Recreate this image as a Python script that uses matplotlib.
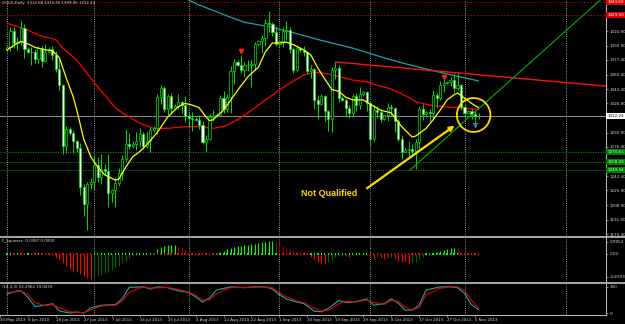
import matplotlib
matplotlib.use('Agg')
import matplotlib.pyplot as plt
from matplotlib.patches import Ellipse
from matplotlib.lines import Line2D

# GOLD daily, 2 Jun 2013 (Sunday bar) .. 6 Nov 2013
opens = [1390, 1392, 1411, 1397, 1398, 1414, 1390, 1387, 1386, 1378, 1391, 1376, 1387, 1390, 1383, 1367,
         1348, 1277, 1297, 1293, 1283, 1275, 1230, 1210, 1234, 1236, 1255, 1242, 1251, 1249, 1223, 1226,
         1235, 1246, 1262, 1280, 1277, 1280, 1283, 1291, 1277, 1283, 1296, 1298, 1334, 1345, 1320, 1335,
         1322, 1324, 1328, 1325, 1312, 1310, 1309, 1308, 1302, 1282, 1286, 1311, 1312, 1314, 1333, 1321,
         1334, 1365, 1375, 1371, 1366, 1372, 1371, 1373, 1396, 1399, 1403, 1420, 1419, 1410, 1396, 1399,
         1411, 1412, 1390, 1366, 1391, 1389, 1386, 1364, 1367, 1331, 1326, 1336, 1318, 1309, 1366, 1368,
         1333, 1331, 1322, 1316, 1336, 1325, 1338, 1340, 1327, 1286, 1319, 1317, 1309, 1313, 1323, 1322,
         1306, 1286, 1271, 1273, 1274, 1272, 1282, 1321, 1315, 1317, 1316, 1337, 1333, 1348, 1351, 1352,
         1354, 1345, 1348, 1323, 1316, 1318, 1315, 1312.68]
highs = [1394, 1416, 1415, 1404, 1423, 1419, 1392, 1392, 1390, 1394, 1394, 1396, 1392, 1394, 1388, 1378,
         1350, 1301, 1299, 1296, 1285, 1281, 1233, 1236, 1240, 1267, 1265, 1268, 1257, 1268, 1228, 1240,
         1252, 1267, 1297, 1293, 1283, 1294, 1298, 1294, 1294, 1300, 1301, 1338, 1348, 1347, 1338, 1339,
         1326, 1338, 1330, 1335, 1316, 1317, 1311, 1314, 1306, 1290, 1315, 1319, 1316, 1337, 1341, 1338,
         1370, 1379, 1377, 1383, 1375, 1377, 1377, 1398, 1400, 1406, 1425, 1434, 1421, 1417, 1401, 1416,
         1423, 1415, 1392, 1395, 1392, 1393, 1388, 1372, 1368, 1337, 1338, 1337, 1319, 1369, 1375, 1371,
         1335, 1333, 1325, 1338, 1339, 1346, 1341, 1341, 1330, 1325, 1324, 1320, 1314, 1327, 1326, 1323,
         1309, 1290, 1275, 1283, 1280, 1286, 1323, 1326, 1318, 1320, 1343, 1339, 1353, 1356, 1353, 1358,
         1362, 1363, 1350, 1326, 1319, 1321, 1318, 1315.55]
lows = [1388, 1388, 1391, 1389, 1395, 1380, 1385, 1371, 1374, 1374, 1369, 1375, 1385, 1377, 1363, 1343,
        1268, 1269, 1290, 1269, 1270, 1221, 1196, 1180, 1228, 1226, 1236, 1233, 1245, 1207, 1212, 1207,
        1231, 1238, 1260, 1274, 1275, 1273, 1278, 1274, 1275, 1270, 1294, 1292, 1326, 1317, 1313, 1315,
        1320, 1320, 1316, 1305, 1299, 1295, 1306, 1297, 1280, 1271, 1284, 1306, 1311, 1313, 1316, 1317,
        1316, 1350, 1370, 1362, 1357, 1365, 1346, 1366, 1394, 1385, 1394, 1410, 1405, 1393, 1394, 1392,
        1400, 1385, 1362, 1364, 1387, 1382, 1361, 1356, 1321, 1309, 1325, 1306, 1295, 1294, 1355, 1328,
        1330, 1311, 1310, 1313, 1318, 1321, 1336, 1318, 1277, 1283, 1310, 1305, 1308, 1307, 1312, 1294,
        1283, 1262, 1270, 1265, 1268, 1251, 1274, 1308, 1313, 1306, 1309, 1322, 1331, 1340, 1350, 1347,
        1340, 1342, 1319, 1310, 1315, 1309, 1300, 1309.06]
closes = [1392, 1411, 1397, 1398, 1414, 1390, 1387, 1386, 1378, 1391, 1376, 1387, 1390, 1383, 1367, 1348,
          1277, 1297, 1293, 1283, 1275, 1230, 1210, 1234, 1236, 1255, 1242, 1251, 1249, 1223, 1226, 1235,
          1246, 1262, 1280, 1277, 1280, 1283, 1291, 1277, 1283, 1296, 1298, 1334, 1345, 1320, 1335, 1322,
          1324, 1328, 1325, 1312, 1310, 1309, 1308, 1302, 1282, 1286, 1311, 1312, 1314, 1333, 1321, 1334,
          1365, 1375, 1371, 1366, 1372, 1371, 1373, 1396, 1399, 1403, 1420, 1419, 1410, 1396, 1399, 1411,
          1412, 1390, 1366, 1391, 1389, 1386, 1364, 1367, 1331, 1326, 1336, 1318, 1309, 1366, 1368, 1333,
          1331, 1322, 1316, 1336, 1325, 1338, 1340, 1327, 1286, 1319, 1317, 1309, 1313, 1323, 1322, 1306,
          1286, 1271, 1273, 1274, 1272, 1282, 1321, 1315, 1317, 1316, 1337, 1333, 1348, 1351, 1352, 1354,
          1345, 1348, 1323, 1316, 1318, 1315, 1312.68, 1312.24]

# moving averages (sampled bars, price)
fast_bars = [0, 3, 4, 6, 8, 11, 13, 15, 16, 17, 19, 20, 22, 24, 26, 28, 31, 32, 34, 36, 38, 40, 43, 46,
             49, 51, 53, 55, 57, 58, 59, 62, 66, 69, 72, 74, 76, 78, 80, 82, 85, 87, 89, 91, 93, 95, 97,
             99, 102, 104, 107, 110, 113, 116, 117, 120, 122, 124, 126, 128, 129, 131, 133, 135]
fast_ma = [1389, 1397, 1399, 1396, 1392, 1389, 1388, 1380, 1368, 1356, 1334, 1319, 1285, 1265, 1253, 1244,
           1238, 1239, 1253, 1265, 1271, 1279, 1293, 1311, 1323, 1327, 1325, 1322, 1311, 1307, 1308, 1319,
           1342, 1358, 1369, 1387, 1397, 1397, 1398, 1395, 1389, 1383, 1368, 1355, 1343, 1341, 1334, 1331,
           1331, 1326, 1319, 1316, 1300, 1288, 1289, 1298, 1308, 1319, 1331, 1337, 1339, 1333, 1327, 1322]
slow_bars = [0, 6, 9, 12, 14, 16, 20, 25, 31, 33, 38, 42, 46, 51, 55, 59, 62, 66, 70, 74, 80, 85, 88, 91,
             94, 99, 103, 106, 109, 112, 115, 117, 121, 125, 129, 135]
slow_ma = [1420, 1412, 1406, 1403, 1401, 1391, 1377, 1351, 1322, 1316, 1304, 1298, 1298, 1300, 1300, 1298,
           1300, 1308, 1319, 1331, 1348, 1360, 1363, 1362, 1359, 1354, 1352, 1348, 1345, 1340, 1334, 1329,
           1325, 1323, 1322, 1320]
long_bars = [48, 52, 55, 57, 62, 68, 75, 81, 90, 99, 107, 113, 119, 125, 135]
long_ma = [1452, 1447, 1441, 1438, 1430, 1421, 1416, 1410, 1400, 1391, 1381, 1374, 1368, 1362, 1353]

# squeeze histogram, one value per bar, and dot state per bar (g/r)
squeeze = [0, 0, 0, 0, 0, 0, 0, 0, 0, 0, 0, 0, 0, 0, -0.14, -0.2, -0.33, -0.46, -0.56, -0.6, -0.7, -0.77,
           -0.85, -0.93, -0.97, -0.9, -0.85, -0.8, -0.72, -0.7, -0.62, -0.55, -0.45, -0.35, -0.25, -0.15,
           -0.08, -0.04, 0, 0, 0, 0, 0.05, 0.18, 0.28, 0.32, 0.33, 0.34, 0.35, 0.32, 0.25, 0.18, 0.1, 0.05,
           0.02, 0, 0, 0, 0, 0, 0.04, 0.08, 0.12, 0.18, 0.22, 0.27, 0.3, 0.32, 0.34, 0.36, 0.38, 0.4, 0.42,
           0.44, 0.46, 0.48, 0.49, 0.47, 0.38, 0.3, 0.22, 0.18, 0.15, 0.12, 0.1, 0.06, 0.03, -0.1, -0.2,
           -0.3, -0.35, -0.38, -0.32, -0.2, -0.1, -0.08, -0.06, -0.08, -0.1, -0.06, -0.05, -0.04, -0.05,
           -0.03, -0.1, -0.15, -0.12, -0.15, -0.18, -0.15, -0.12, -0.18, -0.25, -0.3, -0.32, -0.33, -0.32,
           -0.3, -0.2, -0.1, -0.03, 0, 0.03, 0.06, 0.1, 0.15, 0.18, 0.22, 0.24, 0.22, 0, 0, 0, 0, 0, 0]
dots = ("ggrgrrgrrgrrrr" + "r" * 11 + "g" * 17 + "r" * 19 + "g" * 17 + "r" * 9 + "g" * 17 + "r" * 16
        + "g" * 10 + "r" * 6)

# stochastic (14,3,3)
stoch_bars = [0, 3, 4, 6, 8, 11, 13, 15, 18, 20, 22, 24, 27, 31, 33, 35, 39, 41, 43, 46, 49, 52, 54, 56,
              58, 60, 64, 68, 71, 74, 76, 78, 80, 83, 85, 88, 90, 92, 95, 97, 100, 103, 105, 108, 110, 112,
              114, 116, 118, 120, 124, 127, 129, 131, 133, 135]
stoch_main = [73, 85, 85, 60, 25, 30, 36, 8, 0, 4, 0, 20, 30, 32, 55, 98, 100, 92, 100, 97, 85, 79, 62, 42,
              58, 88, 100, 97, 100, 100, 92, 70, 54, 42, 36, 7, 5, 18, 48, 40, 44, 54, 30, 36, 54, 38, 11,
              11, 30, 88, 100, 100, 97, 75, 32, 13.3]
stoch_signal = [78, 82, 84, 72, 40, 28, 32, 20, 5, 3, 2, 12, 27, 30, 45, 80, 100, 95, 96, 98, 90, 80, 68,
                50, 50, 75, 97, 98, 99, 100, 96, 78, 62, 47, 40, 18, 8, 10, 35, 45, 42, 50, 40, 33, 48, 45,
                22, 12, 20, 70, 95, 100, 100, 85, 48, 19]

price_ticks = [1410.90, 1393.90, 1377.40, 1360.40, 1343.40, 1326.90, 1292.90, 1276.40, 1242.40, 1225.90,
               1208.90, 1191.90, 1175.40]
red_levels = [1444.60, 1429.50]
green_levels = [1270.61, 1258.43, 1249.54]
last_price = 1312.24
month_bars = [0, 25, 52, 78, 104, 131, 160]
date_bars = [-2, 6, 14, 22, 30, 38, 46, 54, 62, 70, 78, 86, 94, 102, 110, 118, 126, 134]
date_labels = ['30 May 2013', '9 Jun 2013', '18 Jun 2013', '27 Jun 2013', '7 Jul 2013', '16 Jul 2013',
               '25 Jul 2013', '4 Aug 2013', '13 Aug 2013', '22 Aug 2013', '1 Sep 2013', '10 Sep 2013',
               '19 Sep 2013', '29 Sep 2013', '8 Oct 2013', '17 Oct 2013', '27 Oct 2013', '5 Nov 2013']

W, H = 625, 324
fig = plt.figure(figsize=(W / 100, H / 100), dpi=100, facecolor='black')
axw = 606 / W
ax = fig.add_axes([0, 1 - 236 / H, axw, 236 / H])
axs = fig.add_axes([0, 1 - 281 / H, axw, 43 / H], sharex=ax)
axk = fig.add_axes([0, 1 - 315 / H, axw, 31 / H], sharex=ax)

grey = '#b4b4b4'
txt = '#d8d8d8'
for a in (ax, axs, axk):
    a.set_facecolor('black')
    for s in ('top', 'left', 'bottom'):
        a.spines[s].set_visible(False)
    a.spines['right'].set_color(grey)
    a.spines['right'].set_linewidth(0.8)
    a.yaxis.tick_right()
    a.tick_params(axis='y', colors=txt, labelsize=3, length=1.5, width=0.4, pad=1)
    a.tick_params(axis='x', bottom=False, labelbottom=False)
    for b in month_bars:
        a.axvline(b, color='#c8c8c8', ls=(0, (1, 1.6)), lw=0.6, zorder=1)

ax.set_xlim(-0.15, 171.5)
ax.set_ylim(1173.1, 1446.9)

# horizontal levels
for lv in red_levels:
    ax.axhline(lv, color='#c00000', ls=(0, (2, 2)), lw=0.6)
    ax.text(1.002, lv, f'{lv:.2f}', transform=ax.get_yaxis_transform(), fontsize=3, color='white',
            va='center', ha='left', bbox=dict(boxstyle='square,pad=0.25', fc='#e00000', ec='none'))
for lv in green_levels:
    ax.axhline(lv, color='#00a000', ls=(0, (1.5, 1.5)), lw=0.6)
    ax.text(1.002, lv, f'{lv:.2f}', transform=ax.get_yaxis_transform(), fontsize=3, color='#c0ffc0',
            va='center', ha='left', bbox=dict(boxstyle='square,pad=0.25', fc='#008000', ec='none'))
ax.axhline(last_price, color='#8c8c9c', lw=0.7)
ax.text(1.002, last_price, f'{last_price:.2f}', transform=ax.get_yaxis_transform(), fontsize=3,
        color='black', va='center', ha='left', bbox=dict(boxstyle='square,pad=0.25', fc='white', ec='none'))
ax.set_yticks(price_ticks)
ax.set_yticklabels([f'{p:.2f}' for p in price_ticks])

# moving averages
ax.plot(long_bars, long_ma, color='#1aa3a8', lw=0.9, zorder=3)
ax.plot(slow_bars, slow_ma, color='#ff0000', lw=0.9, zorder=3)

# candles
idx = list(range(len(closes)))
ax.vlines(idx, lows, highs, color='#00e000', lw=0.7, zorder=4)
body_fill = ['black' if c >= o else 'white' for o, c in zip(opens, closes)]
ax.bar(idx, [max(abs(c - o), 0.6) for o, c in zip(opens, closes)], bottom=[min(o, c) for o, c in zip(opens, closes)],
       width=0.62, color=body_fill, edgecolor='#00e000', linewidth=0.5, zorder=5)
ax.plot(fast_bars, fast_ma, color='#ffff00', lw=0.9, zorder=6)

# drawn objects
ax.plot([94, 171.5], [1375, 1347], color='#ff1010', lw=1.0, zorder=6)
ax.plot([115.4, 175], [1249.7, 1465.5], color='#00b000', lw=0.8, zorder=6)
ax.plot([67, 125], [1388, 1358], ls='none', marker='v', ms=3, color='#ff2020', zorder=7)
ax.plot([134], [1302], ls='none', marker='v', ms=3, mfc='none', mec='#3399ff', mew=0.6, zorder=7)
ax.add_patch(Ellipse((133.6, 1313.5), 9.6, 39.4, fill=False, ec='#ffd700', lw=1.3, zorder=8))
ax.annotate('', xy=(128.8, 1303), xytext=(102.4, 1226.5),
            arrowprops=dict(arrowstyle='-|>', color='#ffd700', lw=1.6, mutation_scale=7), zorder=8)
ax.text(92.2, 1222.4, 'Not Qualified', color='#ffd700', fontsize=6.5, fontweight='bold',
        family=['Liberation Sans', 'DejaVu Sans'], ha='center', va='center', zorder=8)
ax.text(0.003, 0.997, 'GOLD,Daily  1312.68 1315.55 1309.06 1312.24', transform=ax.transAxes,
        fontsize=2.8, color=txt, va='top', ha='left')

# squeeze panel
axs.set_ylim(-1.03, 0.61)
cols = []
prev = 0
for v in squeeze:
    if v >= 0:
        cols.append('#00ff00' if v >= prev else '#8b0000')
    else:
        cols.append('#ff0000' if v <= prev else '#006400')
    prev = v
axs.vlines(idx, 0, squeeze, colors=cols, lw=0.8)
axs.scatter(idx, [0] * len(idx), s=0.9, marker='s', linewidths=0,
            c=['#00ff00' if d == 'g' else '#ff0000' for d in dots], zorder=3)
axs.set_yticks([0.47, 0, -0.87])
axs.set_yticklabels(['0.9952', '0.00', '-0.6923'])
axs.text(0.003, 0.98, 'F_Squeeze -0.0387 0.0000', transform=axs.transAxes, fontsize=2.8, color=txt,
         va='top', ha='left')

# stochastic panel
axk.set_ylim(-7.4, 111)
axk.plot(stoch_bars, stoch_main, color='#1fa8a0', lw=0.8)
axk.plot(stoch_bars, stoch_signal, color='#e00000', lw=0.8)
axk.set_yticks([0, 100])
axk.set_yticklabels(['0', '100'])
axk.text(0.003, 0.98, '(14,3,3) 13.2964 19.0470', transform=axk.transAxes, fontsize=2.8, color=txt,
         va='top', ha='left')
axk.spines['bottom'].set_visible(True)
axk.spines['bottom'].set_color(grey)
axk.spines['bottom'].set_linewidth(0.8)
axk.tick_params(axis='x', bottom=True, labelbottom=True, colors=txt, labelsize=2.8, length=1.5,
                width=0.4, pad=1)
axk.set_xticks(date_bars)
axk.set_xticklabels(date_labels, ha='left')

# panel separators
for yy in (237, 282.5):
    fig.add_artist(Line2D([0, 1], [1 - yy / H] * 2, color=grey, lw=1.3, transform=fig.transFigure))

fig.savefig('out.png', dpi=100, facecolor='black')
